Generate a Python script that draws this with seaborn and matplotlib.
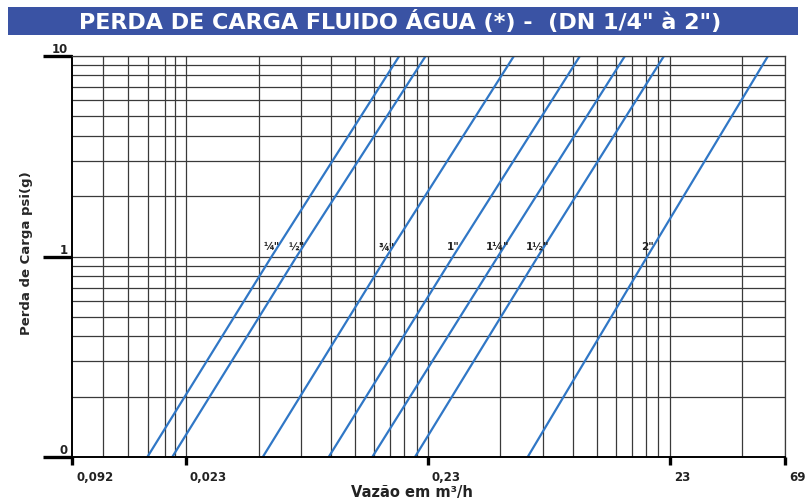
import numpy as np
import pandas as pd
import matplotlib
matplotlib.use('Agg')
import matplotlib.pyplot as plt
from matplotlib.patches import Rectangle
from matplotlib.transforms import ScaledTranslation
import seaborn as sns

# Data (flow in m3/h at 0.1, 1 and 10 psi(g))
diametros = ['¼"', '½"', '¾"', '1"', '1¼"', '1½"', '2"']
perda_psi = [0.1, 1, 10]
vazao_014 = [0.01597, 0.0521, 0.1756]
vazao_012 = [0.02024, 0.0661, 0.2257]
vazao_034 = [0.0479, 0.1557, 0.523]
vazao_1 = [0.0897, 0.2928, 0.980]
vazao_114 = [0.1358, 0.449, 1.504]
vazao_112 = [0.2039, 0.657, 2.181]
vazao_2 = [0.596, 1.86, 5.87]

x_ticks = [0.007795, 0.023, 0.23, 2.3, 6.9]
x_tick_labels = ['0,092', '0,023', '0,23', '23', '69']
y_ticks = [0.1, 1, 10]
y_tick_labels = ['0', '1', '10']

# grid lines of the original chart paper
x_grid = [0.01047, 0.01332, 0.01606, 0.0188, 0.02084,
          0.046, 0.069, 0.092, 0.115, 0.138, 0.161, 0.184, 0.207,
          0.46, 0.69, 0.92, 1.15, 1.38, 1.61, 1.84, 2.07, 4.6]
y_grid = [0.2, 0.3, 0.4, 0.5, 0.6, 0.7, 0.8, 0.9, 2, 3, 4, 5, 6, 7, 8, 9]

series = [vazao_014, vazao_012, vazao_034, vazao_1, vazao_114, vazao_112, vazao_2]
df = pd.DataFrame({
    'diametro': np.repeat(diametros, len(perda_psi)),
    'vazao': np.concatenate(series),
    'perda': perda_psi * len(diametros),
})

sns.set_style('white')
plt.rcParams['font.family'] = ['DejaVu Sans']

blue = '#3077c6'
grid_color = '#3a3a3a'

fig = plt.figure(figsize=(8.06, 5.01), dpi=100)
ax = fig.add_axes([72 / 806, 44 / 501, 713 / 806, 401 / 501])

sns.lineplot(data=df, x='vazao', y='perda', hue='diametro', palette=[blue] * 7,
             estimator=None, sort=False, legend=False, linewidth=1.6, ax=ax)

ax.set_xscale('log')
ax.set_yscale('log')
ax.set_xlim(x_ticks[0], x_ticks[-1])
ax.set_ylim(0.1, 10)

# grid
for xv in x_grid + x_ticks[1:]:
    ax.axvline(xv, color=grid_color, lw=0.9, zorder=0)
for yv in y_grid + y_ticks:
    ax.axhline(yv, color=grid_color, lw=0.9, zorder=0)

ax.set_xticks(x_ticks)
ax.set_xticklabels(x_tick_labels)
ax.set_yticks(y_ticks)
ax.set_yticklabels(y_tick_labels)
ax.minorticks_off()

ax.tick_params(axis='y', left=True, length=21, width=2.4, color='black', pad=-18,
               labelsize=8.5)
ax.tick_params(axis='x', bottom=True, length=6, width=2.4, color='black', pad=4,
               labelsize=8.5)
for lab in ax.get_yticklabels():
    lab.set_fontweight('bold')
    lab.set_verticalalignment('bottom')
    lab.set_color('#222222')
for lab in ax.get_xticklabels():
    lab.set_fontweight('bold')
    lab.set_horizontalalignment('left')
    lab.set_color('#222222')
    lab.set_transform(lab.get_transform() + ScaledTranslation(3 / 72, 0, fig.dpi_scale_trans))

for side in ['left', 'bottom']:
    ax.spines[side].set_color('black')
    ax.spines[side].set_linewidth(1.4)
for side in ['top', 'right']:
    ax.spines[side].set_color(grid_color)
    ax.spines[side].set_linewidth(0.9)

# diameter labels just above the 1 psi line
for nome, s in zip(diametros, series):
    ax.annotate(nome, xy=(s[1], 1.0), xytext=(0, 7), textcoords='offset points',
                ha='center', va='center', fontsize=7.5, fontweight='bold',
                color='#222222')

ax.set_xlabel('')
ax.set_ylabel('')
fig.text(27 / 806, 1 - 253 / 501, 'Perda de Carga psi(g)', rotation=90,
         ha='center', va='center', fontsize=9.5, fontweight='bold')
fig.text(412 / 806, 1 - 492 / 501, 'Vazão em m³/h', ha='center', va='center',
         fontsize=10.5, fontweight='bold', color='#222222')

# title bar
fig.patches.append(Rectangle((8 / 806, 1 - 35 / 501), 790 / 806, 28 / 501,
                             transform=fig.transFigure, facecolor='#3a53a4',
                             edgecolor='none'))
fig.text(400 / 806, 1 - 21 / 501, 'PERDA DE CARGA FLUIDO ÁGUA (*) -  (DN 1/4" à 2")',
         ha='center', va='center', fontsize=16, fontweight='bold', color='white')

fig.savefig('out.png', dpi=100)
